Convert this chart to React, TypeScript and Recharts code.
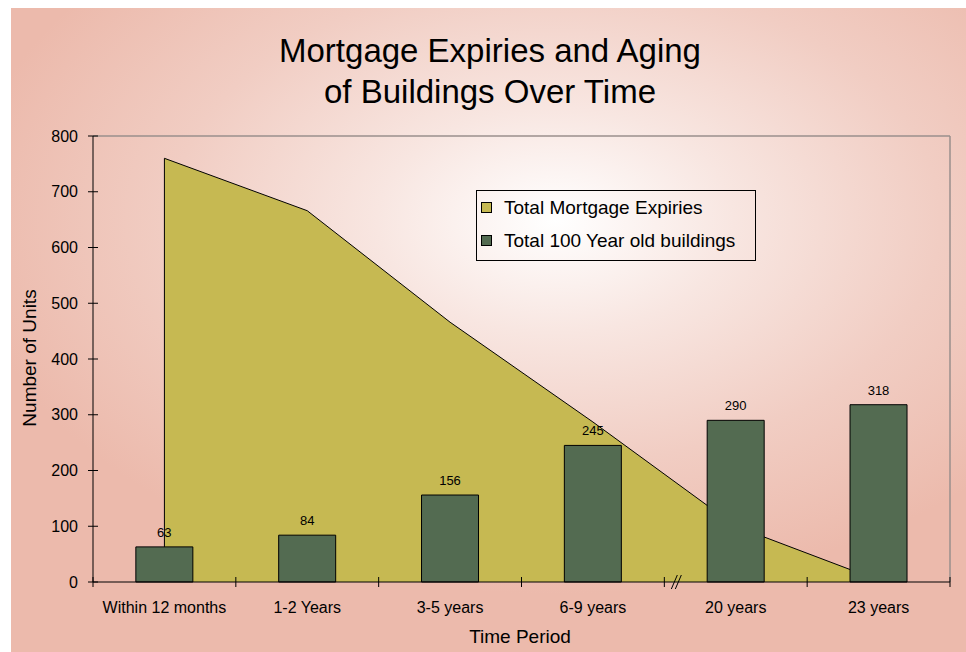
import React from 'react';
import {
  ComposedChart,
  Area,
  Bar,
  XAxis,
  YAxis,
  CartesianGrid,
  Legend,
  LabelList,
  ReferenceLine,
} from 'recharts';

// chart data
const periods = ['Within 12 months', '1-2 Years', '3-5 years', '6-9 years', '20 years', '23 years'];
const mortgageExpiries = [760, 666, 466, 287, 100, 3];
const oldBuildings = [63, 84, 156, 245, 290, 318];
const yTicks = [0, 100, 200, 300, 400, 500, 600, 700, 800];

const data = periods.map((name, i) => ({
  name,
  expiries: mortgageExpiries[i],
  buildings: oldBuildings[i],
}));

const AREA_COLOR = '#C6B952';
const BAR_COLOR = '#536B51';
const FONT = '"Liberation Sans", Arial, sans-serif';

const W = 966;
const H = 652;
const PLOT_LEFT = 93;
const PLOT_RIGHT = 950;
const PLOT_TOP = 136;
const PLOT_BOTTOM = 582;
const BAND = (PLOT_RIGHT - PLOT_LEFT) / periods.length;

const XTick = (props: any) => {
  const { x, payload, index } = props;
  const left = x - BAND / 2;
  return (
    <g>
      <line x1={left} x2={left} y1={PLOT_BOTTOM - 5} y2={PLOT_BOTTOM + 5} stroke="#000" />
      {index === periods.length - 1 && (
        <line x1={x + BAND / 2} x2={x + BAND / 2} y1={PLOT_BOTTOM - 5} y2={PLOT_BOTTOM + 5} stroke="#000" />
      )}
      {index === 4 && (
        <g stroke="#000">
          <line x1={left + 7} y1={PLOT_BOTTOM + 7} x2={left + 13} y2={PLOT_BOTTOM - 7} />
          <line x1={left + 11} y1={PLOT_BOTTOM + 7} x2={left + 17} y2={PLOT_BOTTOM - 7} />
        </g>
      )}
      <text x={x} y={613} textAnchor="middle" fontSize={16} fontFamily={FONT} fill="#000">
        {payload.value}
      </text>
    </g>
  );
};

const YTick = (props: any) => {
  const { y, payload } = props;
  return (
    <g>
      <line x1={PLOT_LEFT - 5} x2={PLOT_LEFT + 5} y1={y} y2={y} stroke="#000" />
      <text x={78} y={y} dy="0.355em" textAnchor="end" fontSize={16} fontFamily={FONT} fill="#000">
        {payload.value}
      </text>
    </g>
  );
};

const legendItems = [
  { name: 'Total Mortgage Expiries', color: AREA_COLOR },
  { name: 'Total 100 Year old buildings', color: BAR_COLOR },
];

const LegendBox = () => (
  <div
    style={{
      border: '1px solid #000',
      padding: '0 0 3px 4px',
      fontFamily: FONT,
      fontSize: 19,
      color: '#000',
      width: 274,
    }}
  >
    {legendItems.map((item) => (
      <div key={item.name} style={{ display: 'flex', alignItems: 'center', height: 33 }}>
        <span
          style={{
            display: 'inline-block',
            width: 9,
            height: 9,
            background: item.color,
            border: '1px solid #000',
            marginRight: 12,
          }}
        />
        <span>{item.name}</span>
      </div>
    ))}
  </div>
);

export default function App() {
  return (
    <div style={{ position: 'absolute', left: 0, top: 0, width: W, height: H, background: '#fff' }}>
      <div
        style={{
          position: 'absolute',
          left: 11,
          top: 8,
          right: 0,
          bottom: 0,
          background:
            'radial-gradient(ellipse 62% 58% at 57% 33%, #ffffff 0%, #f8e6e1 30%, #f1cdc3 65%, #ecbaac 100%)',
        }}
      />
      <div style={{ position: 'absolute', left: 0, top: 0 }}>
        <ComposedChart
          width={W}
          height={H}
          data={data}
          margin={{ top: PLOT_TOP, right: W - PLOT_RIGHT, bottom: 0, left: 0 }}
          barCategoryGap="30%"
        >
          <CartesianGrid
            horizontalPoints={[PLOT_TOP]}
            verticalPoints={[PLOT_RIGHT]}
            stroke="#9a8f8c"
            strokeWidth={1.5}
          />
          <XAxis
            dataKey="name"
            height={H - PLOT_BOTTOM}
            axisLine={{ stroke: '#000' }}
            tickLine={false}
            tick={<XTick />}
            interval={0}
          />
          <YAxis
            width={PLOT_LEFT}
            domain={[0, 800]}
            ticks={yTicks}
            axisLine={{ stroke: '#000' }}
            tickLine={false}
            tick={<YTick />}
          />
          <Legend
            layout="vertical"
            align="center"
            verticalAlign="middle"
            content={<LegendBox />}
            wrapperStyle={{ position: 'absolute', left: 476, top: 190, width: 280 }}
          />
          <Area
            type="linear"
            dataKey="expiries"
            name="Total Mortgage Expiries"
            fill={AREA_COLOR}
            fillOpacity={1}
            stroke="#000"
            strokeWidth={1}
            isAnimationActive={false}
          />
          <ReferenceLine
            segment={[
              { x: periods[0], y: oldBuildings[0] },
              { x: periods[0], y: mortgageExpiries[0] },
            ]}
            stroke="#000"
          />
          <Bar
            dataKey="buildings"
            name="Total 100 Year old buildings"
            fill={BAR_COLOR}
            stroke="#000"
            strokeWidth={1}
            isAnimationActive={false}
          >
            <LabelList dataKey="buildings" position="top" offset={10} fontSize={13} fontFamily={FONT} fill="#000" />
          </Bar>
        </ComposedChart>
      </div>
      <svg
        width={W}
        height={H}
        style={{ position: 'absolute', left: 0, top: 0, pointerEvents: 'none' }}
        fontFamily={FONT}
      >
        <text x={490} y={62} textAnchor="middle" fontSize={33} fill="#000">
          Mortgage Expiries and Aging
        </text>
        <text x={490} y={103} textAnchor="middle" fontSize={33} fill="#000">
          of Buildings Over Time
        </text>
        <text x={520} y={643} textAnchor="middle" fontSize={19} fill="#000">
          Time Period
        </text>
        <text x={36} y={358} textAnchor="middle" fontSize={19} fill="#000" transform="rotate(-90 36 358)">
          Number of Units
        </text>
      </svg>
    </div>
  );
}
